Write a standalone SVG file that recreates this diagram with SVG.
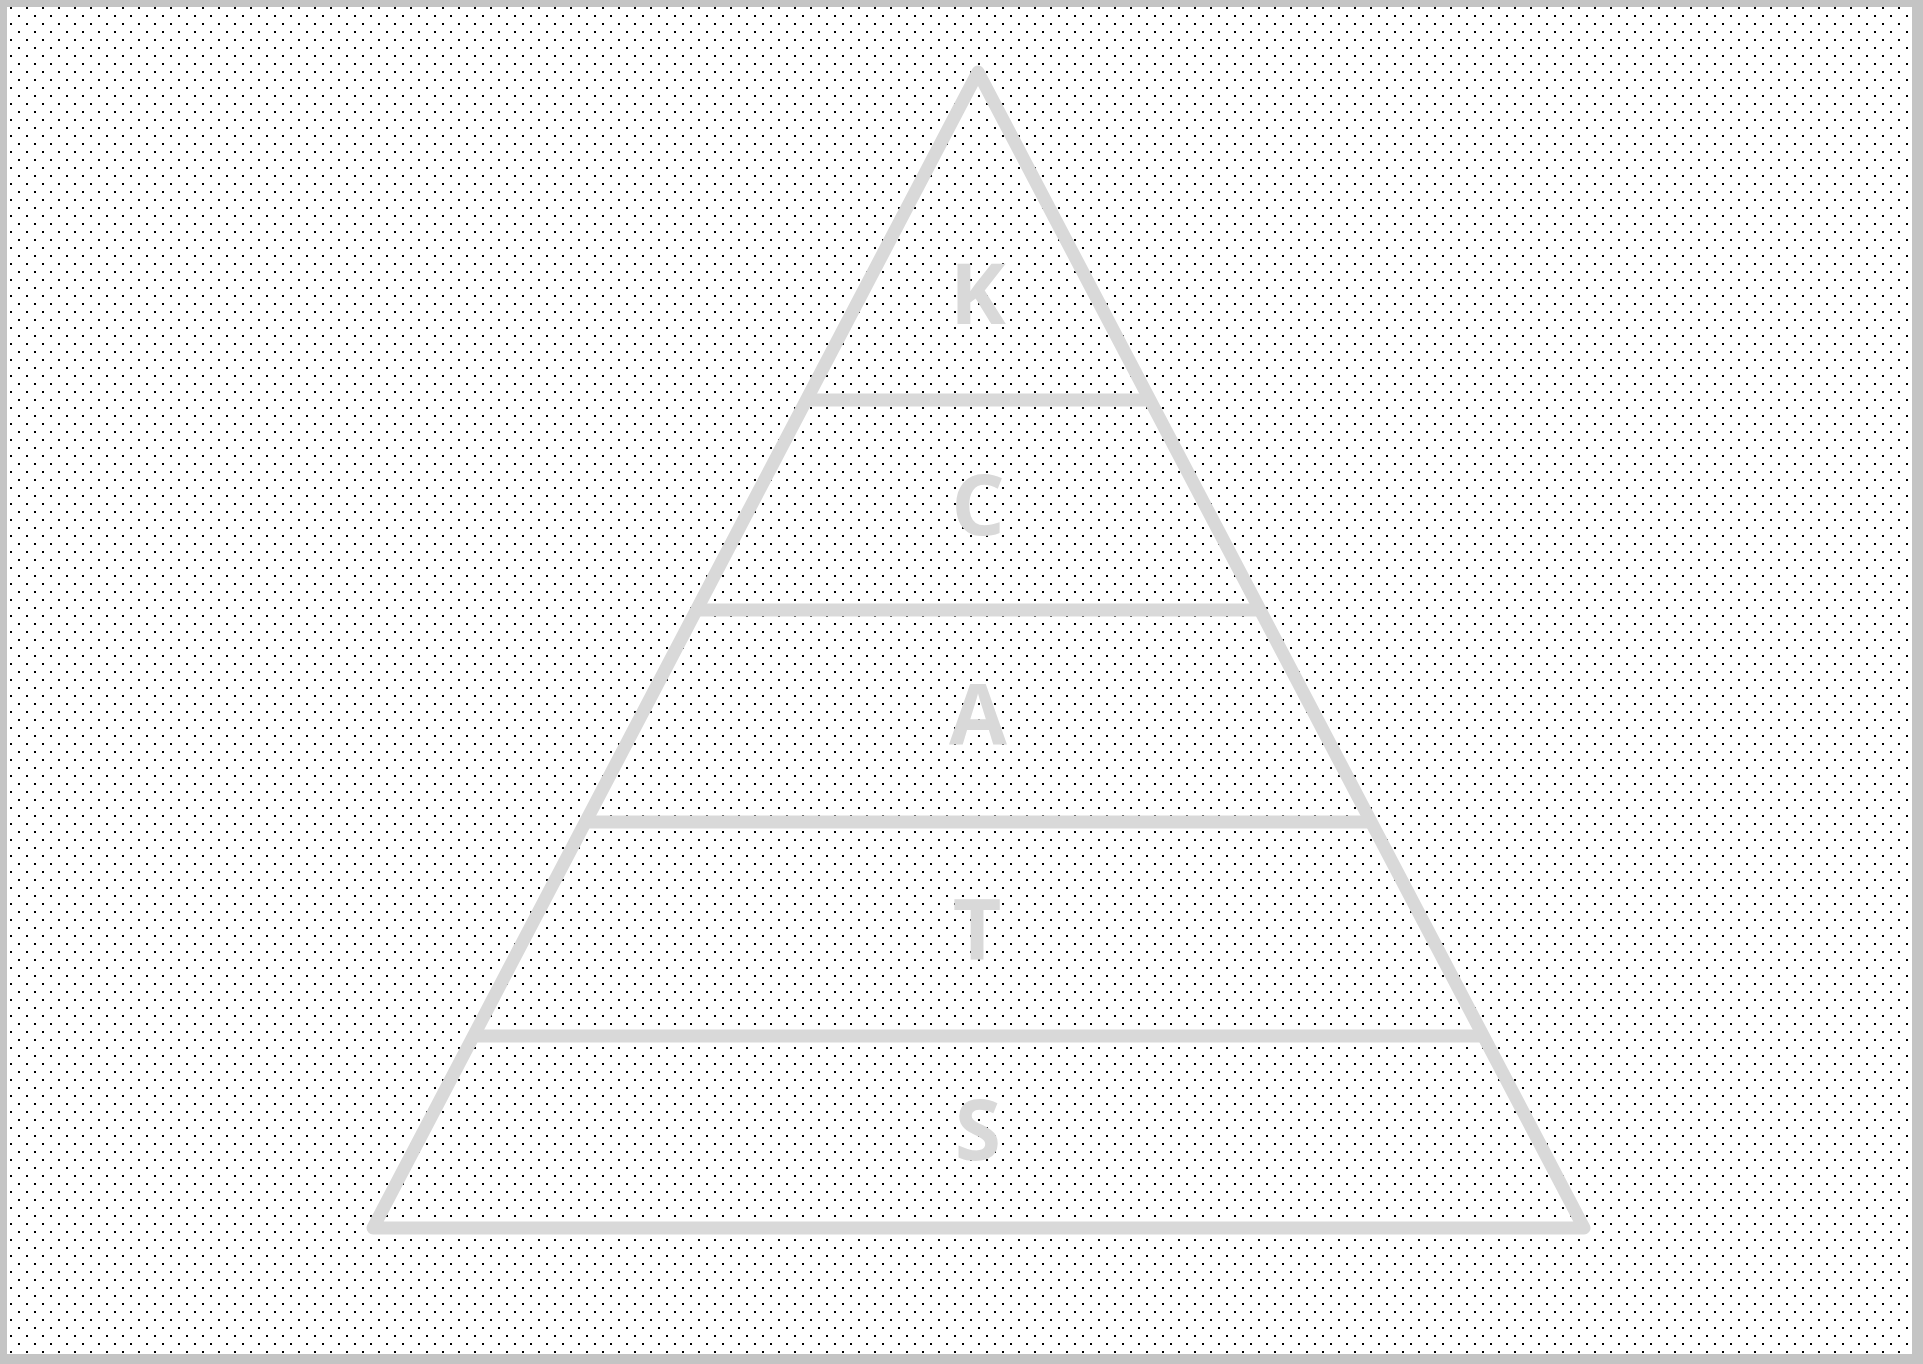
<svg xmlns="http://www.w3.org/2000/svg" width="1923" height="1364" viewBox="0 0 1923 1364">
<defs>
<pattern id="dots" x="0" y="0" width="16" height="16" patternUnits="userSpaceOnUse">
<rect x="2" y="15" width="2" height="2" fill="#000"/>
<rect x="10" y="7" width="2" height="2" fill="#000"/>
<rect x="2" y="-1" width="2" height="2" fill="#000"/>
</pattern>
<style>
.edge{fill:none;stroke:#d9d9d9;stroke-width:13;stroke-linejoin:round;stroke-linecap:round}
.div{stroke:#d9d9d9;stroke-width:13;stroke-linecap:butt}
.lbl{font-family:"Open Sans","Liberation Sans",sans-serif;font-weight:700;font-size:84px;fill:#d9d9d9;text-anchor:middle}
</style>
</defs>
<rect x="0" y="0" width="1923" height="1364" fill="#c4c4c4"/>
<rect x="7" y="7" width="1905" height="1347" fill="#fff"/>
<rect x="7" y="7" width="1905" height="1347" fill="url(#dots)"/>
<g id="connectors">
<polygon class="edge" points="978,72 1584,1228 373,1228"/>
<line class="div" x1="806" y1="400" x2="1150" y2="400"/>
<line class="div" x1="696" y1="610" x2="1260" y2="610"/>
<line class="div" x1="585" y1="822" x2="1371" y2="822"/>
<line class="div" x1="473" y1="1036" x2="1483" y2="1036"/>
</g>
<g id="node-K"><text class="lbl" x="978" y="324">K</text></g>
<g id="node-C"><text class="lbl" x="978" y="535">C</text></g>
<g id="node-A"><text class="lbl" x="978" y="744">A</text></g>
<g id="node-T"><text class="lbl" x="977" y="960">T</text></g>
<g id="node-S"><text class="lbl" x="978" y="1160">S</text></g>
</svg>
